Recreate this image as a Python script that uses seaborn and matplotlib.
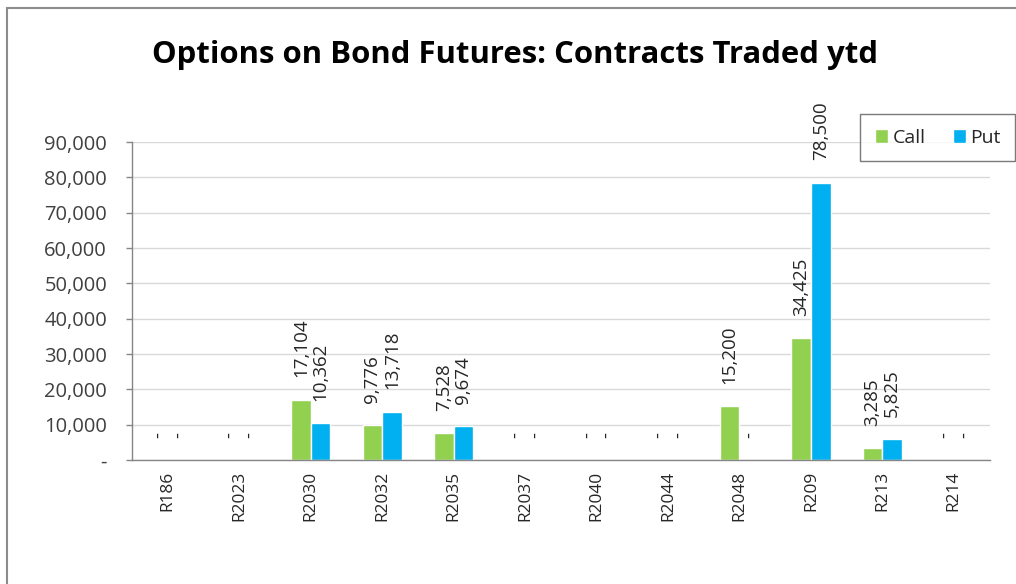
import pandas as pd
import seaborn as sns
import matplotlib.pyplot as plt
from matplotlib.lines import Line2D
from matplotlib.ticker import FuncFormatter, FixedLocator

# bonds and contracts traded ytd
bonds = ["R186", "R2023", "R2030", "R2032", "R2035", "R2037",
         "R2040", "R2044", "R2048", "R209", "R213", "R214"]
call_values = [0, 0, 17104, 9776, 7528, 0, 0, 0, 15200, 34425, 3285, 0]
put_values = [0, 0, 10362, 13718, 9674, 0, 0, 0, 0, 78500, 5825, 0]
series_names = ["Call", "Put"]
y_ticks = [0, 10000, 20000, 30000, 40000, 50000, 60000, 70000, 80000, 90000]

colors = {"Call": "#92D050", "Put": "#00B0F0"}

df = pd.DataFrame({
    "Bond": bonds * 2,
    "Type": [series_names[0]] * len(bonds) + [series_names[1]] * len(bonds),
    "Contracts": call_values + put_values,
})

sns.set_style("white")
plt.rcParams["font.family"] = ["Open Sans", "DejaVu Sans"]

fig = plt.figure(figsize=(10.16, 5.84), dpi=100)
ax = fig.add_axes([0.130, 0.2123, 0.844, 0.5445])

sns.barplot(data=df, x="Bond", y="Contracts", hue="Type", order=bonds,
            hue_order=series_names, palette=colors, width=0.55,
            saturation=1, ax=ax, legend=True)

# data labels, "-" for zero like the spreadsheet
for cont in ax.containers:
    labels = []
    for bar in cont:
        h = bar.get_height()
        labels.append(f"{int(round(h)):,}" if h > 0 else "-")
    ax.bar_label(cont, labels=labels, rotation=90, padding=16,
                 fontsize=13.5, color="#262626")

ax.set_ylim(0, 90000)
ax.set_xlim(-0.5, len(bonds) - 0.5)
ax.set_yticks(y_ticks)
ax.yaxis.set_major_formatter(FuncFormatter(lambda v, p: "-" if v == 0 else f"{int(v):,}"))
ax.yaxis.grid(True, color="#d9d9d9", linewidth=1)
ax.set_axisbelow(True)

ax.set_xlabel("")
ax.set_ylabel("")
ax.tick_params(axis="x", which="major", length=0, pad=8, labelsize=12.4,
               labelcolor="#262626", labelrotation=90)
ax.xaxis.set_minor_locator(FixedLocator([i - 0.5 for i in range(len(bonds) + 1)]))
ax.tick_params(axis="x", which="minor", length=4, color="#868686", direction="out")
ax.tick_params(axis="y", length=4, color="#868686", direction="out", width=1,
               labelsize=14.5, labelcolor="#404040", pad=14, left=True)

for s in ["top", "right"]:
    ax.spines[s].set_visible(False)
for s in ["left", "bottom"]:
    ax.spines[s].set_color("#868686")
    ax.spines[s].set_linewidth(1)

leg = ax.legend(loc="upper right", bbox_to_anchor=(1015 / 1016, 1 - 114 / 584),
                bbox_transform=fig.transFigure, ncol=2, frameon=True, fancybox=False,
                fontsize=14, handlelength=0.7, handleheight=0.7, handletextpad=0.2,
                columnspacing=1.4, borderpad=0.75, borderaxespad=0)
leg.get_frame().set_edgecolor("#595959")
leg.get_frame().set_linewidth(1)

fig.text(0.507, 0.906, "Options on Bond Futures: Contracts Traded ytd",
         ha="center", va="center", fontsize=22.4, fontweight="bold", color="black")

# chart area border (top and left edges visible)
fig.add_artist(Line2D([7 / 1016, 1], [1 - 8 / 584, 1 - 8 / 584],
                      transform=fig.transFigure, color="#8c8c8c", linewidth=1.5))
fig.add_artist(Line2D([7 / 1016, 7 / 1016], [0, 1 - 8 / 584],
                      transform=fig.transFigure, color="#8c8c8c", linewidth=1.5))

fig.savefig("out.png", dpi=100, facecolor="white")
